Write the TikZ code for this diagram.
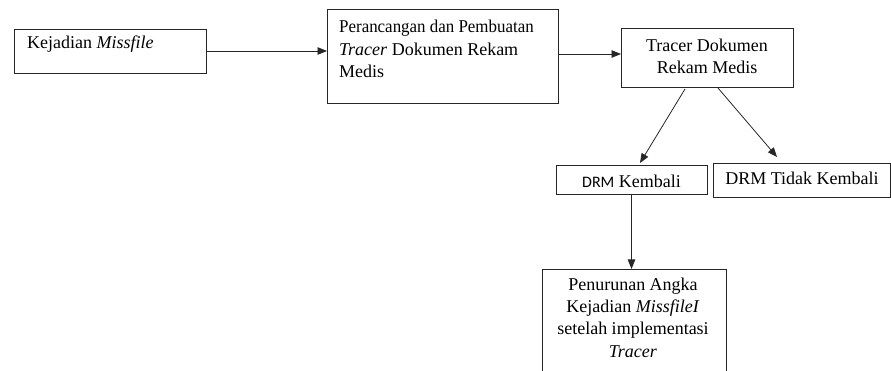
\documentclass[tikz,border=0pt]{standalone}
\usepackage{fontspec}
\setmainfont{Liberation Serif}
\newfontfamily\calibri{Carlito}
\usetikzlibrary{arrows.meta,calc}
\begin{document}
\begin{tikzpicture}[x=1pt,y=-1pt,
  box/.style={draw=black!85,line width=0.8pt,inner sep=0pt,outer sep=0pt,rectangle,anchor=north west},
  txt/.style={inner sep=0pt,font=\fontsize{18}{22.3}\selectfont},
  arr/.style={draw=black!85,line width=0.8pt,-{Triangle[length=9.5pt,width=7.5pt]}}]
\useasboundingbox (0,0) rectangle (891,371);
\clip (0,0) rectangle (891,371);
% boxes
\node[box,minimum width=192pt,minimum height=44pt] (b1) at (14,29) {};
\node[box,minimum width=231pt,minimum height=94pt] (b2) at (327,9) {};
\node[box,minimum width=172pt,minimum height=59pt] (b3) at (621,28) {};
\node[box,minimum width=151pt,minimum height=29pt] (kem) at (556,165) {};
\node[box,minimum width=177pt,minimum height=34pt] (tidak) at (713,163) {};
\node[box,minimum width=184pt,minimum height=140pt] (bot) at (542,269) {};
% texts
\node[txt,anchor=base west] (t1) at (27,49) {Kejadian \textit{Missfile}};
\node[txt,anchor=west,align=left] (t2) at (339,49) {\scalebox{0.94}[1]{Perancangan dan Pembuatan}\\\textit{Tracer} Dokumen Rekam\\Medis};
\node[txt,align=center] (t3) at (707,56.5) {Tracer Dokumen\\Rekam Medis};
\node[txt,anchor=base] (t4) at (631.5,188) {{\calibri\fontsize{16}{18}\selectfont DRM} Kembali};
\node[txt,anchor=base] (t5) at (802,185) {DRM Tidak Kembali};
\node[txt,align=center] (t6) at (633,317.5) {Penurunan Angka\\Kejadian \textit{MissfileI}\\setelah implementasi\\\textit{Tracer}};
% connectors
\coordinate (a2) at ($(b2.east)+(0,-2)$);
\coordinate (d1s) at ($(b3.south)+(-22,2)$);
\coordinate (d1e) at ($(kem.north)+(8.5,-2)$);
\coordinate (d2s) at ($(b3.south)+(11,1)$);
\coordinate (d2e) at ($(tidak.north)+(-24.5,-6)$);
\draw[arr] (b1.east) -- (b1.east -| b2.west);
\draw[arr] (a2) -- (a2 -| b3.west);
\draw[arr] (d1s) -- (d1e);
\draw[arr] (d2s) -- (d2e);
\draw[arr] (kem.south) -- (kem.south |- bot.north);
\end{tikzpicture}
\end{document}
